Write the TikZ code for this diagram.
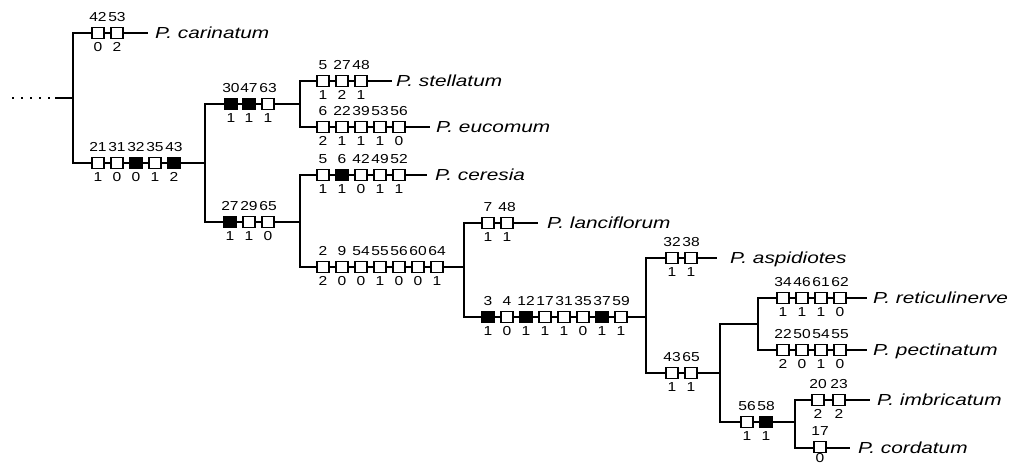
\documentclass[tikz,border=0pt]{standalone}
\usepackage{fontspec}
\setmainfont{Liberation Sans}
\tikzset{
  tree/.style={line width=2pt, line join=miter},
  rootdots/.style={line width=2pt, dash pattern=on 2pt off 7pt},
  cbox/.style={draw, line width=1.3pt, fill=white, minimum width=12pt, minimum height=11pt, inner sep=0pt},
  cboxfilled/.style={cbox, fill=black},
  numlab/.style={inner sep=0pt, font=\fontsize{13}{13}\selectfont},
  taxon/.style={anchor=base west, inner sep=0pt, font=\fontsize{16}{16}\selectfont\itshape},
}
% name, x, y, top, bottom, style
\newcommand\charbox[6]{%
  \node[#6] (#1) at (#2,#3) {};
  \node[numlab] (#1t) at (#2,#3-16) {\scalebox{1.2}[1]{#4}};
  \node[numlab] (#1b) at (#2,#3+14) {\scalebox{1.2}[1]{#5}};
}
\newcommand\taxlab[4]{%
  \node[taxon] (#1) at (#2,#3+5.5) {\scalebox{1.3}[1]{#4}};
}
\begin{document}
\begin{tikzpicture}[x=1pt,y=-1pt]
\useasboundingbox (0,0) rectangle (1021,465);
% junctions and tips
\coordinate (r0) at (12,98);
\coordinate (r1) at (55,98);
\coordinate (n1) at (73,98);
\coordinate (tcar) at (148,33);
\coordinate (n2) at (205,163);
\coordinate (n3) at (300,104);
\coordinate (tstel) at (392,81);
\coordinate (teuc) at (430,127);
\coordinate (n4) at (300,222);
\coordinate (tcer) at (427,175);
\coordinate (n5) at (464,267);
\coordinate (tlan) at (538,223);
\coordinate (n6) at (646,317);
\coordinate (tasp) at (717,258);
\coordinate (n7) at (720,373);
\coordinate (n8) at (758,324);
\coordinate (tret) at (867,298);
\coordinate (tpec) at (867,350);
\coordinate (n9) at (795,422);
\coordinate (timb) at (870,400);
\coordinate (tcor) at (850,448);
% edges
\draw[rootdots] (r0) -- (r1);
\draw[tree] (r1) -- (n1);
\draw[tree] (n1) |- (tcar);
\draw[tree] (n1) |- (n2);
\draw[tree] (n2) |- (n3);
\draw[tree] (n3) |- (tstel);
\draw[tree] (n3) |- (teuc);
\draw[tree] (n2) |- (n4);
\draw[tree] (n4) |- (tcer);
\draw[tree] (n4) |- (n5);
\draw[tree] (n5) |- (tlan);
\draw[tree] (n5) |- (n6);
\draw[tree] (n6) |- (tasp);
\draw[tree] (n6) |- (n7);
\draw[tree] (n7) |- (n8);
\draw[tree] (n8) |- (tret);
\draw[tree] (n8) |- (tpec);
\draw[tree] (n7) |- (n9);
\draw[tree] (n9) |- (timb);
\draw[tree] (n9) |- (tcor);
% character boxes
\charbox{a1}{98}{33}{42}{0}{cbox}
\charbox{a2}{117}{33}{53}{2}{cbox}
\charbox{b1}{98}{163}{21}{1}{cbox}
\charbox{b2}{117}{163}{31}{0}{cbox}
\charbox{b3}{136}{163}{32}{0}{cboxfilled}
\charbox{b4}{155}{163}{35}{1}{cbox}
\charbox{b5}{174}{163}{43}{2}{cboxfilled}
\charbox{c1}{231}{104}{30}{1}{cboxfilled}
\charbox{c2}{249}{104}{47}{1}{cboxfilled}
\charbox{c3}{268}{104}{63}{1}{cbox}
\charbox{d1}{323}{81}{5}{1}{cbox}
\charbox{d2}{342}{81}{27}{2}{cbox}
\charbox{d3}{361}{81}{48}{1}{cbox}
\charbox{e1}{323}{127}{6}{2}{cbox}
\charbox{e2}{342}{127}{22}{1}{cbox}
\charbox{e3}{361}{127}{39}{1}{cbox}
\charbox{e4}{380}{127}{53}{1}{cbox}
\charbox{e5}{399}{127}{56}{0}{cbox}
\charbox{f1}{230}{222}{27}{1}{cboxfilled}
\charbox{f2}{249}{222}{29}{1}{cbox}
\charbox{f3}{268}{222}{65}{0}{cbox}
\charbox{g1}{323}{175}{5}{1}{cbox}
\charbox{g2}{342}{175}{6}{1}{cboxfilled}
\charbox{g3}{361}{175}{42}{0}{cbox}
\charbox{g4}{380}{175}{49}{1}{cbox}
\charbox{g5}{399}{175}{52}{1}{cbox}
\charbox{h1}{323}{267}{2}{2}{cbox}
\charbox{h2}{342}{267}{9}{0}{cbox}
\charbox{h3}{361}{267}{54}{0}{cbox}
\charbox{h4}{380}{267}{55}{1}{cbox}
\charbox{h5}{399}{267}{56}{0}{cbox}
\charbox{h6}{418}{267}{60}{0}{cbox}
\charbox{h7}{437}{267}{64}{1}{cbox}
\charbox{i1}{488}{223}{7}{1}{cbox}
\charbox{i2}{507}{223}{48}{1}{cbox}
\charbox{j1}{488}{317}{3}{1}{cboxfilled}
\charbox{j2}{507}{317}{4}{0}{cbox}
\charbox{j3}{526}{317}{12}{1}{cboxfilled}
\charbox{j4}{545}{317}{17}{1}{cbox}
\charbox{j5}{564}{317}{31}{1}{cbox}
\charbox{j6}{583}{317}{35}{0}{cbox}
\charbox{j7}{602}{317}{37}{1}{cboxfilled}
\charbox{j8}{621}{317}{59}{1}{cbox}
\charbox{k1}{672}{258}{32}{1}{cbox}
\charbox{k2}{691}{258}{38}{1}{cbox}
\charbox{l1}{672}{373}{43}{1}{cbox}
\charbox{l2}{691}{373}{65}{1}{cbox}
\charbox{m1}{783}{298}{34}{1}{cbox}
\charbox{m2}{802}{298}{46}{1}{cbox}
\charbox{m3}{821}{298}{61}{1}{cbox}
\charbox{m4}{840}{298}{62}{0}{cbox}
\charbox{o1}{783}{350}{22}{2}{cbox}
\charbox{o2}{802}{350}{50}{0}{cbox}
\charbox{o3}{821}{350}{54}{1}{cbox}
\charbox{o4}{840}{350}{55}{0}{cbox}
\charbox{p1}{747}{422}{56}{1}{cbox}
\charbox{p2}{766}{422}{58}{1}{cboxfilled}
\charbox{q1}{818}{400}{20}{2}{cbox}
\charbox{q2}{839}{400}{23}{2}{cbox}
% last box: its lower number raised a little so it stays inside the page
\node[cbox] (s1) at (820,447) {};
\node[numlab] (s1t) at (820,431) {\scalebox{1.2}[1]{17}};
\node[numlab] (s1b) at (820,458.5) {\scalebox{1.2}[1]{0}};
% taxon names
\taxlab{lcar}{155}{33}{P. carinatum}
\taxlab{lstel}{396}{81}{P. stellatum}
\taxlab{leuc}{436}{127}{P. eucomum}
\taxlab{lcer}{435}{175}{P. ceresia}
\taxlab{llan}{547}{223}{P. lanciflorum}
\taxlab{lasp}{730}{258}{P. aspidiotes}
\taxlab{lret}{873}{298}{P. reticulinerve}
\taxlab{lpec}{873}{350}{P. pectinatum}
\taxlab{limb}{877}{400}{P. imbricatum}
\taxlab{lcor}{858}{448}{P. cordatum}
\end{tikzpicture}
\end{document}
